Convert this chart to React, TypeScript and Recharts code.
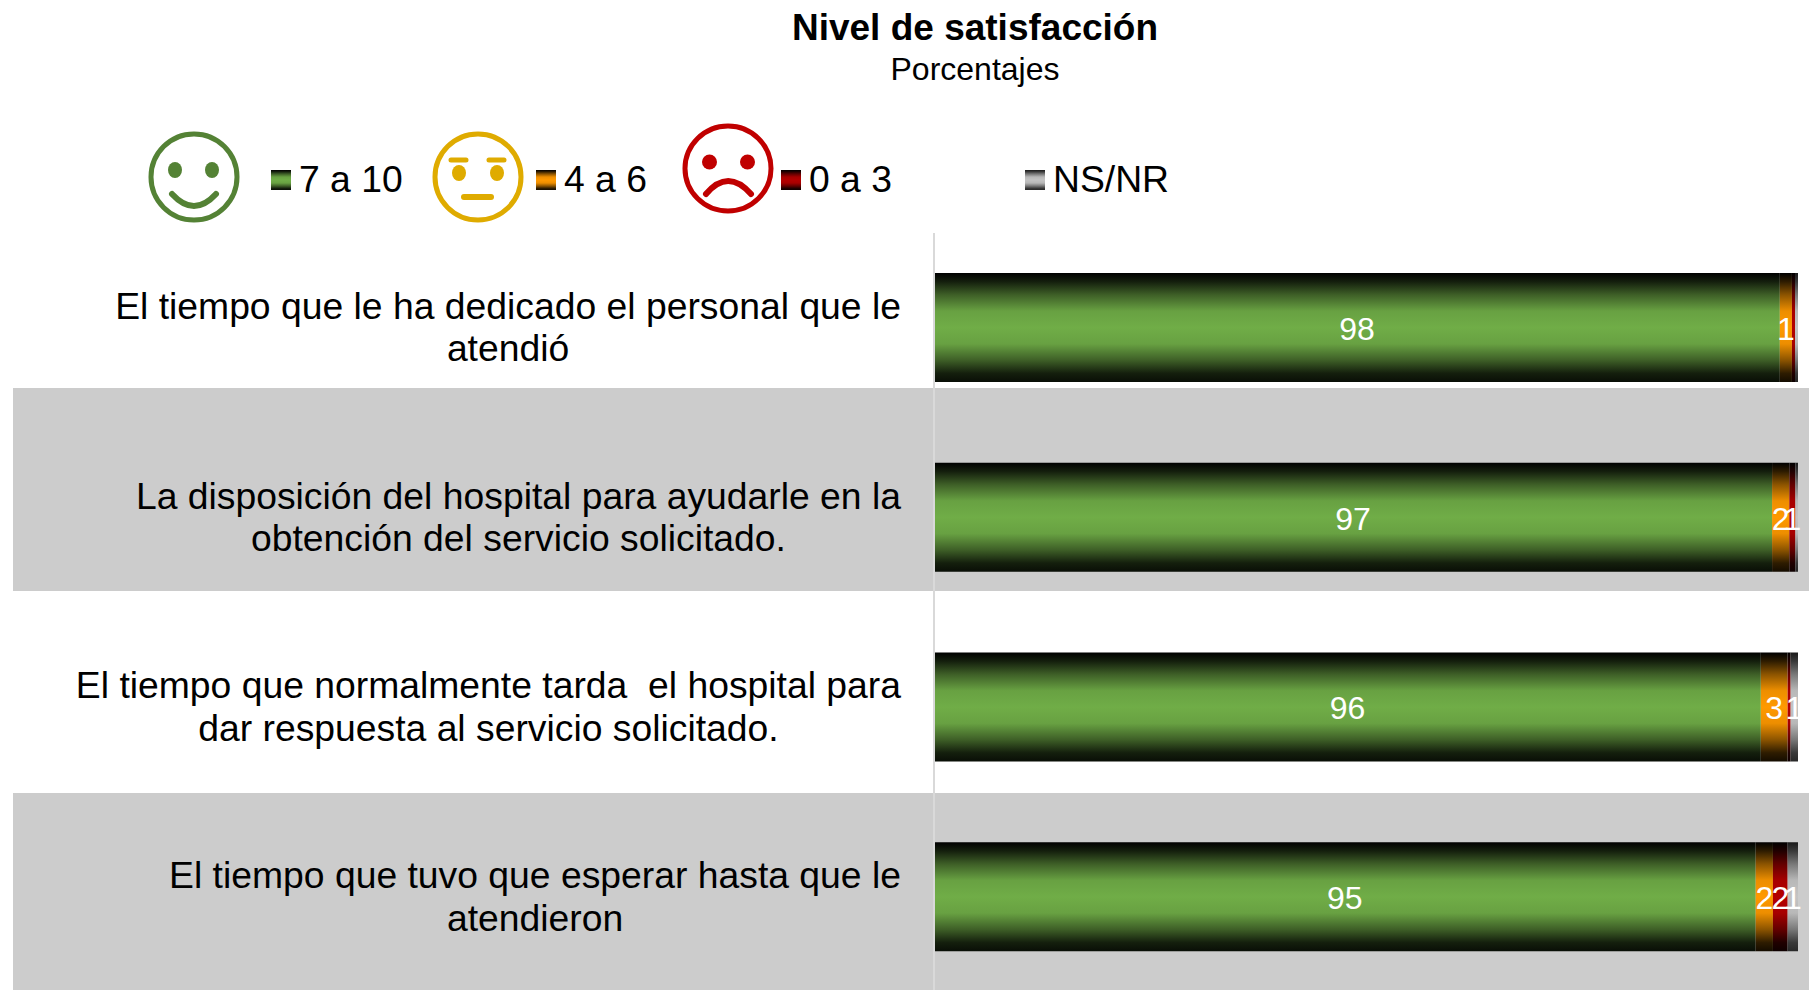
import { BarChart, Bar, XAxis, YAxis, LabelList } from "recharts";

const FONT = '"Liberation Sans", Arial, sans-serif';

const categories = [
  ["El tiempo que le ha dedicado el personal que le", "atendió"],
  ["La disposición del hospital para ayudarle en la", "obtención del servicio solicitado."],
  ["El tiempo que normalmente tarda  el hospital para", "dar respuesta al servicio solicitado."],
  ["El tiempo que tuvo que esperar hasta que le", "atendieron"],
];

const alto = [97.9, 97.0, 95.7, 95.1];
const medio = [1.4, 2.0, 3.1, 2.0];
const bajo = [0.35, 0.7, 0.35, 1.7];
const nsnr = [0.35, 0.3, 0.85, 1.2];

const rows = categories.map((lines, i) => ({
  name: lines.join("\n"),
  alto: alto[i],
  medio: medio[i],
  bajo: bajo[i],
  nsnr: nsnr[i],
}));

const series = [
  { key: "alto", label: "7 a 10", gradient: "gradGreen", rgb: [112, 173, 71], edge: 0 },
  { key: "medio", label: "4 a 6", gradient: "gradOrange", rgb: [255, 153, 0], edge: 0 },
  { key: "bajo", label: "0 a 3", gradient: "gradRed", rgb: [180, 0, 0], edge: 0 },
  { key: "nsnr", label: "NS/NR", gradient: "gradGray", rgb: [196, 196, 196], edge: 26 },
];

// shape of the shaded bars, top to bottom: [offset, share of the full colour]
const bands = [
  [0, 0],
  [0.08, 0.18],
  [0.2, 0.55],
  [0.35, 0.93],
  [0.5, 1],
  [0.65, 0.93],
  [0.8, 0.55],
  [0.92, 0.18],
  [1, 0.08],
];

function mix(rgb: number[], edge: number, f: number) {
  const c = rgb.map((v) => Math.round(edge + (v - edge) * f));
  return `rgb(${c[0]},${c[1]},${c[2]})`;
}

const canvas = document.createElement("canvas");
function textWidth(text: string) {
  const ctx = canvas.getContext("2d")!;
  ctx.font = `37.3px ${FONT}`;
  return ctx.measureText(text).width;
}

// Lines are centred on each other, the block itself sits right-aligned
function CategoryTick({ y, payload }: any) {
  const lines = String(payload.value).split("\n");
  const right = 901;
  const cx = right - Math.max(...lines.map(textWidth)) / 2;
  return (
    <text
      textAnchor="middle"
      fontFamily={FONT}
      fontSize={37.3}
      fill="#000"
      style={{ whiteSpace: "pre" }}
    >
      <tspan x={cx} y={y - 9}>{lines[0]}</tspan>
      <tspan x={cx} y={y + 33.5}>{lines[1]}</tspan>
    </text>
  );
}

function Swatch({ x, i }: { x: number; i: number }) {
  const s = series[i];
  return (
    <g>
      <rect x={x} y={170} width={20} height={20} fill={`url(#${s.gradient})`} />
      <text x={x + 28} y={192} fontFamily={FONT} fontSize={37.3} fill="#000">
        {s.label}
      </text>
    </g>
  );
}

function Faces() {
  return (
    <g fill="none" strokeLinecap="round">
      {/* contento */}
      <g stroke="#548235" strokeWidth={5}>
        <ellipse cx={194} cy={177} rx={43} ry={43} />
        <path d="M172 194 Q194 218 216 194" strokeWidth={6} />
      </g>
      <ellipse cx={175} cy={170} rx={7} ry={8} fill="#548235" />
      <ellipse cx={212} cy={170} rx={7} ry={8} fill="#548235" />
      {/* neutro */}
      <g stroke="#dfab00" strokeWidth={5}>
        <ellipse cx={478} cy={177} rx={43} ry={43} />
        <path d="M451 160 H466 M489 160 H504" />
        <path d="M464 197 H491" strokeWidth={6} />
      </g>
      <ellipse cx={459} cy={173} rx={7} ry={8} fill="#dfab00" />
      <ellipse cx={497} cy={173} rx={7} ry={8} fill="#dfab00" />
      {/* triste */}
      <g stroke="#c00000" strokeWidth={5}>
        <ellipse cx={728} cy={168.5} rx={43} ry={42.5} />
        <path d="M706 194 Q728 168 751 194" strokeWidth={6} />
      </g>
      <ellipse cx={709.5} cy={162} rx={7.5} ry={7.5} fill="#c00000" />
      <ellipse cx={747.5} cy={162} rx={7.5} ry={7.5} fill="#c00000" />
    </g>
  );
}

export default function App() {
  return (
    <div style={{ position: "fixed", left: 0, top: 0, width: 1809, height: 990, overflow: "hidden", background: "#fff" }}>
      <div style={{ position: "absolute", left: 13, top: 388, width: 1796, height: 203, background: "#cccccc" }} />
      <div style={{ position: "absolute", left: 13, top: 793, width: 1796, height: 197, background: "#cccccc" }} />
      <div style={{ position: "absolute", left: 0, top: 0 }}>
        <BarChart
          width={1809}
          height={992}
          data={rows}
          layout="vertical"
          margin={{ top: 233, right: 11, bottom: 0, left: 0 }}
        >
          <defs>
            {series.map((s) => (
              <linearGradient key={s.gradient} id={s.gradient} x1="0" y1="0" x2="0" y2="1">
                {bands.map(([offset, f]) => (
                  <stop key={offset} offset={offset} stopColor={mix(s.rgb, s.edge, f)} />
                ))}
              </linearGradient>
            ))}
          </defs>
          <XAxis type="number" domain={[0, 100]} hide />
          <YAxis
            type="category"
            dataKey="name"
            width={934}
            axisLine={{ stroke: "#d9d9d9", strokeWidth: 2 }}
            tickLine={false}
            tick={CategoryTick}
            interval={0}
          />
          {series.map((s) => (
            <Bar
              key={s.key}
              dataKey={s.key}
              stackId="a"
              barSize={109}
              fill={`url(#${s.gradient})`}
              isAnimationActive={false}
            >
              <LabelList
                dataKey={s.key}
                position="center"
                fill="#ffffff"
                fontSize={32}
                fontFamily={FONT}
                dy={1}
                formatter={(v: any) => (Math.round(v) > 0 ? Math.round(v) : "")}
              />
            </Bar>
          ))}
          <text x={975} y={40} textAnchor="middle" fontFamily={FONT} fontSize={37} fontWeight="bold" fill="#000">
            Nivel de satisfacción
          </text>
          <text x={975} y={80} textAnchor="middle" fontFamily={FONT} fontSize={32} fill="#000">
            Porcentajes
          </text>
          <Faces />
          <Swatch x={271} i={0} />
          <Swatch x={536} i={1} />
          <Swatch x={781} i={2} />
          <Swatch x={1025} i={3} />
        </BarChart>
      </div>
    </div>
  );
}
